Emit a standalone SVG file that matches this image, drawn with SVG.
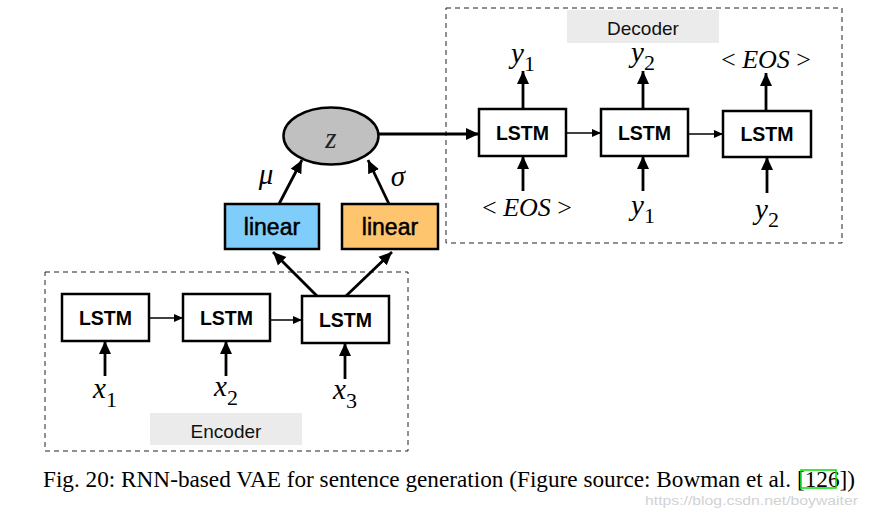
<svg xmlns="http://www.w3.org/2000/svg" width="869" height="510" viewBox="0 0 869 510">
<defs>
<style>
.box{fill:#fff;stroke:#000;stroke-width:2.5}
.lstm{font-family:"Liberation Sans",Arial,sans-serif;font-weight:bold;font-size:19.5px;text-anchor:middle}
.lin{font-family:"Liberation Sans",Arial,sans-serif;font-size:23px;text-anchor:middle;stroke:#000;stroke-width:0.5}
.lbl{font-family:"Liberation Sans",Arial,sans-serif;font-size:19px;text-anchor:middle;fill:#111}
.math{font-family:"Liberation Serif","Times New Roman",serif;font-size:29px;text-anchor:middle}
.eos{font-family:"Liberation Serif","Times New Roman",serif;font-size:26px;text-anchor:middle}
.it{font-style:italic}
.sub{font-size:22px}
.dash{fill:none;stroke:#222;stroke-width:1;stroke-dasharray:5,4}
.thick{stroke:#000;stroke-width:2.8;fill:none}
.thin{stroke:#000;stroke-width:1.5;fill:none}
</style>
<marker id="big" markerUnits="userSpaceOnUse" markerWidth="14" markerHeight="14" refX="13" refY="7" orient="auto"><path d="M0,1 L13,7 L0,13 Z" fill="#000"/></marker>
<marker id="small" markerUnits="userSpaceOnUse" markerWidth="10" markerHeight="10" refX="9" refY="5" orient="auto"><path d="M0,1 L9,5 L0,9 Z" fill="#000"/></marker>
</defs>
<rect width="869" height="510" fill="#fff"/>

<g id="decoder-frame">
<rect class="dash" x="446" y="8" width="396" height="235"/>
<rect x="567" y="10" width="152" height="33" fill="#ebebeb"/>
<text class="lbl" x="643" y="35">Decoder</text>
</g>
<g id="encoder-frame">
<rect class="dash" x="45" y="272" width="363" height="179"/>
<rect x="150" y="413" width="152" height="32" fill="#ebebeb"/>
<text class="lbl" x="226" y="438">Encoder</text>
</g>

<g id="connectors">
<line class="thick" x1="379" y1="134" x2="479" y2="134" marker-end="url(#big)"/>
<line class="thin" x1="566" y1="133" x2="601" y2="133" marker-end="url(#small)"/>
<line class="thin" x1="688" y1="134" x2="723" y2="134" marker-end="url(#small)"/>
<line class="thick" x1="523" y1="109" x2="523" y2="71" marker-end="url(#big)"/>
<line class="thick" x1="643" y1="109" x2="643" y2="71" marker-end="url(#big)"/>
<line class="thick" x1="766" y1="111" x2="766" y2="73" marker-end="url(#big)"/>
<line class="thick" x1="523" y1="191" x2="523" y2="156" marker-end="url(#big)"/>
<line class="thick" x1="643" y1="191" x2="643" y2="156" marker-end="url(#big)"/>
<line class="thick" x1="767" y1="193" x2="767" y2="157" marker-end="url(#big)"/>
<line class="thick" x1="279" y1="204" x2="302" y2="160" marker-end="url(#big)"/>
<line class="thick" x1="389" y1="204" x2="368" y2="160" marker-end="url(#big)"/>
<line class="thick" x1="317" y1="296" x2="273" y2="252" marker-end="url(#big)"/>
<line class="thick" x1="346" y1="296" x2="392" y2="252" marker-end="url(#big)"/>
<line class="thin" x1="149" y1="318" x2="183" y2="318" marker-end="url(#small)"/>
<line class="thin" x1="270" y1="320" x2="302" y2="320" marker-end="url(#small)"/>
<line class="thick" x1="105" y1="376" x2="105" y2="341" marker-end="url(#big)"/>
<line class="thick" x1="226" y1="376" x2="226" y2="341" marker-end="url(#big)"/>
<line class="thick" x1="345" y1="379" x2="345" y2="343" marker-end="url(#big)"/>
</g>

<g id="z">
<ellipse cx="331" cy="136" rx="47.5" ry="28.5" fill="#c0c0c0" stroke="#000" stroke-width="2.5"/>
<text class="math it" x="331" y="148" font-size="42" fill="#222">z</text>
</g>
<g id="mu-label"><text class="math it" x="266" y="184" font-size="37">μ</text></g>
<g id="sigma-label"><text class="math it" x="398" y="186" font-size="37">σ</text></g>

<g id="linear-mu">
<rect x="225" y="204" width="94" height="45" fill="#7fcdfb" stroke="#000" stroke-width="2.5"/>
<text class="lin" x="272" y="235">linear</text>
</g>
<g id="linear-sigma">
<rect x="342" y="204" width="96" height="45" fill="#ffc56e" stroke="#000" stroke-width="2.5"/>
<text class="lin" x="390" y="235">linear</text>
</g>

<g id="enc-lstm1"><rect class="box" x="62" y="294" width="87" height="47"/><text class="lstm" x="105.5" y="325">LSTM</text></g>
<g id="enc-lstm2"><rect class="box" x="183" y="294" width="87" height="47"/><text class="lstm" x="226.5" y="325">LSTM</text></g>
<g id="enc-lstm3"><rect class="box" x="302" y="296" width="87" height="47"/><text class="lstm" x="345.5" y="327">LSTM</text></g>

<g id="dec-lstm1"><rect class="box" x="479" y="109" width="87" height="47"/><text class="lstm" x="522.5" y="140">LSTM</text></g>
<g id="dec-lstm2"><rect class="box" x="601" y="109" width="87" height="47"/><text class="lstm" x="644.5" y="140">LSTM</text></g>
<g id="dec-lstm3"><rect class="box" x="723" y="111" width="88" height="46"/><text class="lstm" x="767" y="141">LSTM</text></g>

<g id="x1"><text class="math" x="105" y="398"><tspan class="it">x</tspan><tspan class="sub" dy="9">1</tspan></text></g>
<g id="x2"><text class="math" x="226" y="396"><tspan class="it">x</tspan><tspan class="sub" dy="9">2</tspan></text></g>
<g id="x3"><text class="math" x="345" y="399"><tspan class="it">x</tspan><tspan class="sub" dy="9">3</tspan></text></g>

<g id="out-y1"><text class="math" x="523" y="63"><tspan class="it">y</tspan><tspan class="sub" dy="8">1</tspan></text></g>
<g id="out-y2"><text class="math" x="643" y="62"><tspan class="it">y</tspan><tspan class="sub" dy="8">2</tspan></text></g>
<g id="out-eos"><text class="eos" x="766" y="68">&lt; <tspan class="it">EOS</tspan> &gt;</text></g>
<g id="in-eos"><text class="eos" x="527" y="216">&lt; <tspan class="it">EOS</tspan> &gt;</text></g>
<g id="in-y1"><text class="math" x="643" y="215"><tspan class="it">y</tspan><tspan class="sub" dy="8">1</tspan></text></g>
<g id="in-y2"><text class="math" x="767" y="219"><tspan class="it">y</tspan><tspan class="sub" dy="8">2</tspan></text></g>

<g id="caption">
<text x="43" y="487" font-family="'Liberation Serif','Times New Roman',serif" font-size="22.5" textLength="812" lengthAdjust="spacingAndGlyphs">Fig. 20: RNN-based VAE for sentence generation (Figure source: Bowman et al. [126])</text>
<rect x="801" y="470" width="35" height="18" fill="none" stroke="#00e000" stroke-width="1.5"/>
<text x="645" y="505" font-family="'Liberation Sans',Arial,sans-serif" font-size="13" fill="#d2d2d2" textLength="213" lengthAdjust="spacingAndGlyphs">https://blog.csdn.net/boywaiter</text>
</g>
</svg>
